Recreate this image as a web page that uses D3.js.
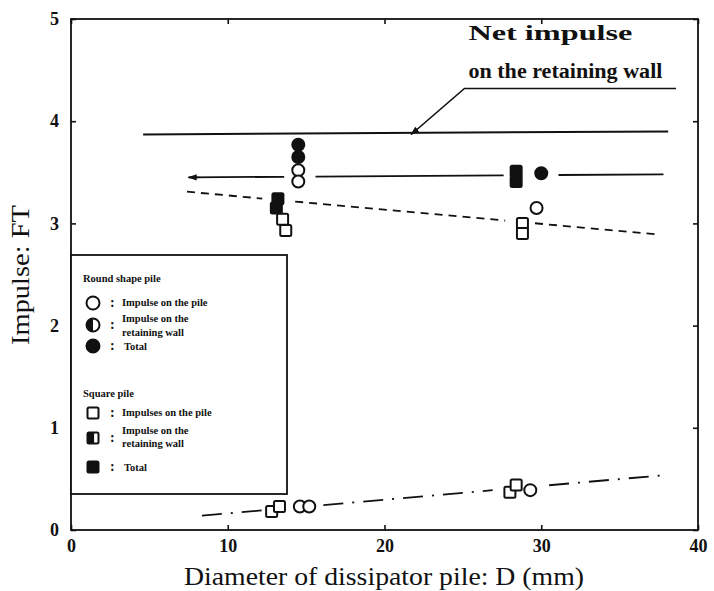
<!DOCTYPE html>
<html>
<head>
<meta charset="utf-8">
<script src="https://cdn.jsdelivr.net/npm/d3@7"></script>
<style>
  html, body { margin: 0; padding: 0; background: #fff; }
  svg { display: block; }
  svg text { font-family: "Liberation Serif", "Times New Roman", Times, serif; }
</style>
</head>
<body>
<svg id="chart" width="714" height="591"></svg>
<script>
// ---- data: impulse (FT) against dissipator pile diameter D (mm) ----
// open circles: round pile, impulse on the pile
const roundPile = [[14.5, 3.52], [14.5, 3.41], [29.7, 3.15], [14.6, 0.23], [15.2, 0.23], [29.3, 0.39]];
// filled circles: round pile, total
const roundTotal = [[14.5, 3.77], [14.5, 3.65], [30.0, 3.49]];
// open squares: square pile, impulse on the pile
const squarePile = [[13.5, 3.04], [13.7, 2.93], [28.8, 3.00], [28.8, 2.90], [12.8, 0.18], [13.3, 0.23], [28.0, 0.37], [28.4, 0.44]];
// filled squares: square pile, total
const squareTotal = [[13.2, 3.24], [13.1, 3.15], [28.4, 3.51], [28.4, 3.41]];

// straight reference lines: end points [D, FT] and the stretches left blank around the markers
const netWallLine = [[4.6, 3.87], [38.1, 3.90]];
const totalLine = [[7.5, 3.45], [37.8, 3.48]];
const totalLineGaps = [[13.6, 15.6], [27.6, 31.1]];
const pileLine = [[7.4, 3.31], [37.6, 2.89]];
const pileLineGaps = [[12.2, 14.3], [27.7, 29.6]];
const lowLine = [[8.35, 0.14], [38.1, 0.54]];
const lowLineGaps = [[12.2, 16.1], [26.9, 30.5]];

// annotation leader: arrow tip on the net line, elbow, end of the underline
const leader = [[21.7, 3.87], [25.1, 4.32], [38.6, 4.32]];

const xTicks = [0, 10, 20, 30, 40];
const yTicks = [0, 1, 2, 3, 4, 5];

// ---- layout ----
const svg = d3.select("#chart");
const x = d3.scaleLinear().domain([0, 40]).range([71, 698]);
const y = d3.scaleLinear().domain([0, 5]).range([530, 19]);
const ink = "#111";
const serif = "\"Liberation Serif\", \"Times New Roman\", Times, serif";

svg.append("rect").attr("width", 714).attr("height", 591).attr("fill", "#fff");

// frame
svg.append("rect")
  .attr("x", x(0)).attr("y", y(5))
  .attr("width", x(40) - x(0)).attr("height", y(0) - y(5))
  .attr("fill", "none").attr("stroke", ink).attr("stroke-width", 1.8);

// axes with inward ticks
function styleAxis(g) {
  g.attr("font-family", null);
  g.select(".domain").remove();
  g.selectAll(".tick line").attr("stroke", ink).attr("stroke-width", 1.6);
  g.selectAll(".tick text")
    .attr("fill", ink)
    .style("font-family", serif)
    .attr("font-weight", "bold")
    .attr("font-size", 18);
}
svg.append("g").attr("transform", `translate(0,${y(0)})`)
  .call(d3.axisBottom(x).tickValues(xTicks).tickSizeInner(-5).tickSizeOuter(0).tickPadding(9).tickFormat(d3.format("d")))
  .call(styleAxis);
svg.append("g").attr("transform", `translate(${x(0)},0)`)
  .call(d3.axisLeft(y).tickValues(yTicks).tickSizeInner(-5).tickSizeOuter(0).tickPadding(12).tickFormat(d3.format("d")))
  .call(styleAxis);
svg.append("g").attr("transform", `translate(0,${y(5)})`)
  .call(d3.axisTop(x).tickValues(xTicks).tickSizeInner(-5).tickSizeOuter(0).tickFormat(""))
  .call(styleAxis);
svg.append("g").attr("transform", `translate(${x(40)},0)`)
  .call(d3.axisRight(y).tickValues(yTicks).tickSizeInner(-5).tickSizeOuter(0).tickFormat(""))
  .call(styleAxis);

// axis titles
svg.append("text")
  .attr("x", 384).attr("y", 585)
  .attr("text-anchor", "middle")
  .style("font-family", serif).attr("font-size", 26).attr("fill", ink)
  .attr("textLength", 400).attr("lengthAdjust", "spacingAndGlyphs")
  .text("Diameter of dissipator pile:  D (mm)");
svg.append("text")
  .attr("transform", "translate(29,275) rotate(-90)")
  .attr("text-anchor", "middle")
  .style("font-family", serif).attr("font-size", 26).attr("fill", ink)
  .attr("textLength", 140).attr("lengthAdjust", "spacingAndGlyphs")
  .text("Impulse:  FT");

// arrow heads
const defs = svg.append("defs");
defs.append("marker")
  .attr("id", "arrow").attr("viewBox", "0 0 10 10")
  .attr("refX", 9).attr("refY", 5)
  .attr("markerWidth", 9).attr("markerHeight", 9)
  .attr("markerUnits", "userSpaceOnUse")
  .attr("orient", "auto")
  .append("path").attr("d", "M0,1.5 L10,5 L0,8.5 Z").attr("fill", ink);

// reference lines, drawn in pieces between the gaps
function segments(ends, gaps) {
  const [[d0, v0], [d1, v1]] = ends;
  const at = d => v0 + (v1 - v0) * (d - d0) / (d1 - d0);
  const cuts = [d0];
  (gaps || []).forEach(g => cuts.push(g[0], g[1]));
  cuts.push(d1);
  const out = [];
  for (let i = 0; i < cuts.length; i += 2) out.push([[cuts[i], at(cuts[i])], [cuts[i + 1], at(cuts[i + 1])]]);
  return out;
}
const line = d3.line().x(p => x(p[0])).y(p => y(p[1]));

function drawLine(ends, gaps, dash, width) {
  svg.append("g").selectAll("path")
    .data(segments(ends, gaps))
    .join("path")
    .attr("d", line)
    .attr("fill", "none")
    .attr("stroke", ink)
    .attr("stroke-width", width)
    .attr("stroke-dasharray", dash);
}
drawLine(netWallLine, null, null, 2);
drawLine(totalLine, totalLineGaps, null, 1.8);
drawLine(pileLine, pileLineGaps, "8,6", 1.8);
drawLine(lowLine, lowLineGaps, "20,9,2,9", 1.8);

// small arrow head at the left end of the total line
svg.append("path")
  .attr("d", line([[totalLine[0][0] + 0.7, totalLine[0][1]], totalLine[0]]))
  .attr("stroke", ink).attr("stroke-width", 1.5)
  .attr("marker-end", "url(#arrow)");

// annotation leader and label
svg.append("path")
  .attr("d", line([leader[2], leader[1], leader[0]]))
  .attr("fill", "none").attr("stroke", ink).attr("stroke-width", 1.6)
  .attr("marker-end", "url(#arrow)");
const note = svg.append("g")
  .attr("font-weight", "bold")
  .attr("font-size", 20).attr("fill", ink);
note.append("text").attr("x", x(leader[1][0]) + 4).attr("y", 40)
  .style("font-family", serif)
  .attr("textLength", 164).attr("lengthAdjust", "spacingAndGlyphs").text("Net impulse");
note.append("text").attr("x", x(leader[1][0]) + 4).attr("y", 78)
  .style("font-family", serif)
  .attr("textLength", 194).attr("lengthAdjust", "spacingAndGlyphs").text("on the retaining wall");

// markers
const R = 6, S = 11;
function circles(data, fill) {
  svg.append("g").selectAll("circle").data(data).join("circle")
    .attr("cx", p => x(p[0])).attr("cy", p => y(p[1])).attr("r", R)
    .attr("fill", fill).attr("stroke", ink).attr("stroke-width", 2);
}
function squares(data, fill) {
  svg.append("g").selectAll("rect").data(data).join("rect")
    .attr("x", p => x(p[0]) - S / 2).attr("y", p => y(p[1]) - S / 2)
    .attr("width", S).attr("height", S).attr("rx", 1.5)
    .attr("fill", fill).attr("stroke", ink).attr("stroke-width", 2);
}
circles(roundTotal, ink);
circles(roundPile, "#fff");
squares(squareTotal, ink);
squares(squarePile, "#fff");

// ---- legend ----
const lg = svg.append("g");
lg.append("rect")
  .attr("x", x(0)).attr("y", 255).attr("width", 216).attr("height", 239)
  .attr("fill", "#fff").attr("stroke", ink).attr("stroke-width", 1.8);

const lgText = (tx, ty, s, size) => lg.append("text")
  .attr("x", tx).attr("y", ty)
  .style("font-family", serif).attr("font-weight", "bold")
  .attr("font-size", size || 10.5).attr("fill", ink).text(s);
const colon = ty => lgText(110, ty + 4, ":", 14);

const mx = 93, lr = 6.5, ls = 11;
lgText(83, 282, "Round shape pile");
// open circle
lg.append("circle").attr("cx", mx).attr("cy", 303).attr("r", lr)
  .attr("fill", "#fff").attr("stroke", ink).attr("stroke-width", 2);
colon(303); lgText(122, 306, "Impulse on the pile");
// half-filled circle
lg.append("circle").attr("cx", mx).attr("cy", 325).attr("r", lr)
  .attr("fill", "#fff").attr("stroke", ink).attr("stroke-width", 2);
lg.append("path")
  .attr("d", `M${mx},${325 - lr} A${lr},${lr} 0 0 0 ${mx},${325 + lr} Z`).attr("fill", ink);
colon(325); lgText(122, 322, "Impulse on the"); lgText(122, 336, "retaining wall");
// filled circle
lg.append("circle").attr("cx", mx).attr("cy", 346).attr("r", lr)
  .attr("fill", ink).attr("stroke", ink).attr("stroke-width", 2);
colon(346); lgText(124, 350, "Total");

lgText(83, 397, "Square pile");
// open square
lg.append("rect").attr("x", mx - ls / 2).attr("y", 413 - ls / 2).attr("width", ls).attr("height", ls).attr("rx", 1.5)
  .attr("fill", "#fff").attr("stroke", ink).attr("stroke-width", 2);
colon(413); lgText(122, 416, "Impulses on the pile");
// half-filled square
lg.append("rect").attr("x", mx - ls / 2).attr("y", 438 - ls / 2).attr("width", ls).attr("height", ls).attr("rx", 1.5)
  .attr("fill", "#fff").attr("stroke", ink).attr("stroke-width", 2);
lg.append("rect").attr("x", mx - ls / 2).attr("y", 438 - ls / 2).attr("width", ls * 0.6).attr("height", ls).attr("fill", ink);
colon(438); lgText(122, 434, "Impulse on the"); lgText(122, 447, "retaining wall");
// filled square
lg.append("rect").attr("x", mx - ls / 2).attr("y", 467 - ls / 2).attr("width", ls).attr("height", ls).attr("rx", 1.5)
  .attr("fill", ink).attr("stroke", ink).attr("stroke-width", 2);
colon(467); lgText(124, 471, "Total");
</script>
</body>
</html>
